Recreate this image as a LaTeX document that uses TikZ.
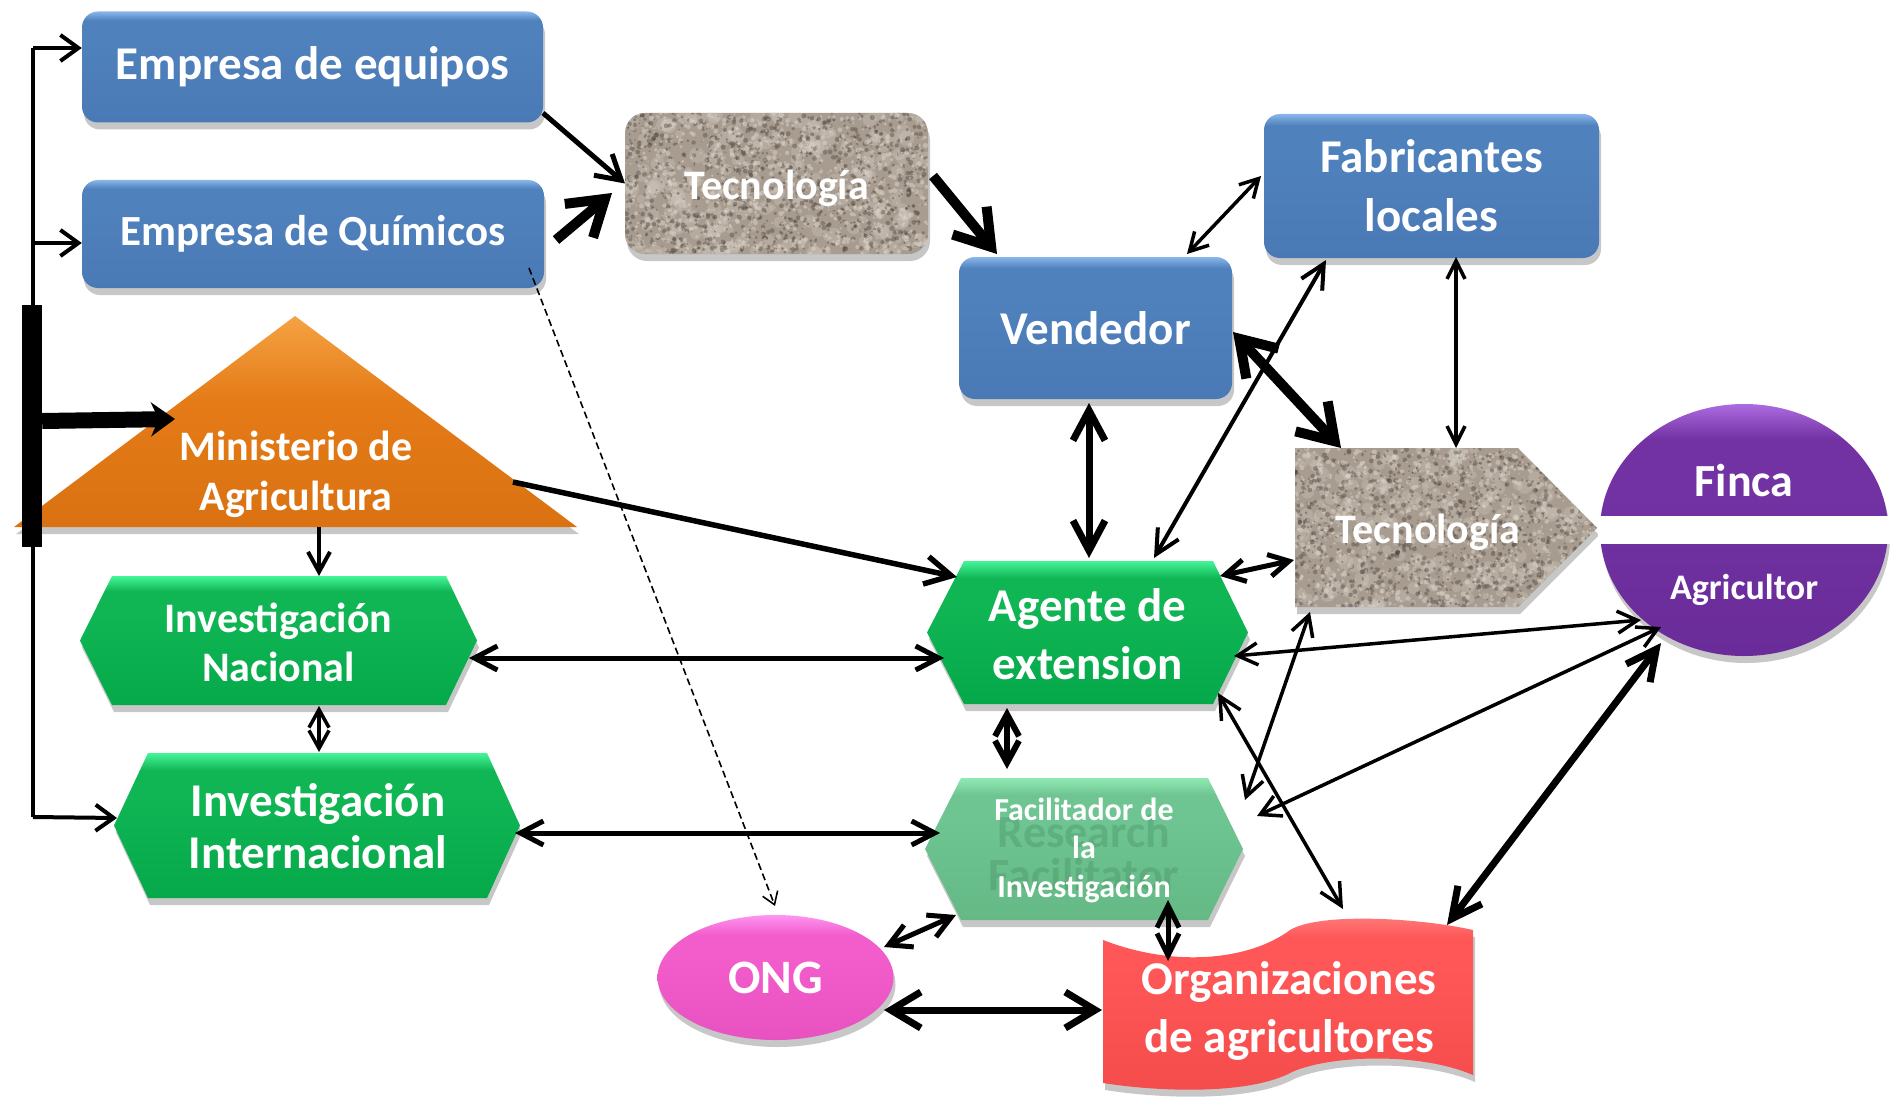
\documentclass[tikz,border=0pt]{standalone}
\usepackage{fontspec}
\setmainfont{Carlito}
\usetikzlibrary{arrows.meta,shadows,shapes.geometric}
\definecolor{blueL}{HTML}{8AB6EA}
\definecolor{blueM}{HTML}{4F81BD}
\definecolor{blueD}{HTML}{4A7AB6}
\definecolor{grnL}{HTML}{44F598}
\definecolor{grnM}{HTML}{10B554}
\definecolor{grnD}{HTML}{05A94A}
\definecolor{facL}{HTML}{90E8B2}
\definecolor{facM}{HTML}{6EC591}
\definecolor{facD}{HTML}{64B985}
\definecolor{orgL}{HTML}{F5A243}
\definecolor{orgM}{HTML}{E47B17}
\definecolor{orgD}{HTML}{DB7212}
\definecolor{purL}{HTML}{AC6BE0}
\definecolor{purM}{HTML}{7232A3}
\definecolor{purD}{HTML}{6A2C99}
\definecolor{pnkL}{HTML}{FF95F2}
\definecolor{pnkM}{HTML}{F25CCB}
\definecolor{pnkD}{HTML}{E852C0}
\definecolor{redL}{HTML}{FF8080}
\definecolor{redM}{HTML}{FF5757}
\definecolor{redD}{HTML}{F44B4B}
\definecolor{texB}{HTML}{A89C90}
\definecolor{texK}{HTML}{4A423A}
\definecolor{texW}{HTML}{DCD4CA}
\definecolor{ghost}{HTML}{2A6142}
\pgfdeclareverticalshading{shBlue}{100bp}{color(0bp)=(blueD); color(25bp)=(blueD); color(62bp)=(blueM); color(71bp)=(blueM); color(75bp)=(blueL); color(100bp)=(blueL)}
\pgfdeclareverticalshading{shGrn}{100bp}{color(0bp)=(grnD); color(25bp)=(grnD); color(60bp)=(grnM); color(69bp)=(grnM); color(75bp)=(grnL); color(100bp)=(grnL)}
\pgfdeclareverticalshading{shFac}{100bp}{color(0bp)=(facD); color(25bp)=(facD); color(60bp)=(facM); color(69bp)=(facM); color(75bp)=(facL); color(100bp)=(facL)}
\pgfdeclareverticalshading{shOr}{100bp}{color(0bp)=(orgD); color(25bp)=(orgD); color(55bp)=(orgM); color(75bp)=(orgL); color(100bp)=(orgL)}
\pgfdeclareverticalshading{shPur}{100bp}{color(0bp)=(purD); color(25bp)=(purD); color(58bp)=(purM); color(68bp)=(purM); color(75bp)=(purL); color(100bp)=(purL)}
\pgfdeclareverticalshading{shPnk}{100bp}{color(0bp)=(pnkD); color(25bp)=(pnkD); color(58bp)=(pnkM); color(67bp)=(pnkM); color(75bp)=(pnkL); color(100bp)=(pnkL)}
\pgfdeclareverticalshading{shRed}{100bp}{color(0bp)=(redD); color(25bp)=(redD); color(60bp)=(redM); color(68bp)=(redM); color(75bp)=(redL); color(100bp)=(redL)}
\newcommand{\fsz}[2]{\fontsize{#1}{#2}\selectfont\bfseries}
\newcommand{\texdots}[4]{%
  \foreach \k in {1,...,260}{\fill[texW,opacity=0.25] ({#1+#3*rnd},{#2+#4*rnd}) circle[radius={3+5*rnd}];}%
  \foreach \k in {1,...,1100}{\fill[texK,opacity=0.4] ({#1+#3*rnd},{#2+#4*rnd}) circle[radius={0.8+1.8*rnd}];}%
  \foreach \k in {1,...,900}{\fill[texW,opacity=0.5] ({#1+#3*rnd},{#2+#4*rnd}) circle[radius={0.8+1.8*rnd}];}}
\tikzset{
  shd/.style={drop shadow={shadow xshift=2pt,shadow yshift=-7pt,opacity=0.22,fill=black}},
  hit/.style={rectangle,inner sep=0pt,outer sep=0pt},
  lbl/.style={text=white,align=center,inner sep=0pt},
  bluebox/.style={rectangle,rounded corners=16pt,shade,shading=shBlue,shd,text=white,align=center,inner sep=0pt},
  dbl/.style n args={3}{line width=#1pt,arrows={Straight Barb[length=#2pt,width=#3pt]-Straight Barb[length=#2pt,width=#3pt]}},
  one/.style n args={3}{line width=#1pt,arrows={-Straight Barb[length=#2pt,width=#3pt]}},
  dsh/.style={line width=1.6pt,dash pattern=on 7pt off 4pt,arrows={-Straight Barb[length=12pt,width=16pt]}},
}
\begin{document}
\begin{tikzpicture}[x=1pt,y=-1pt,line join=round]
\pgfmathsetseed{12}
\useasboundingbox (0,0) rectangle (1892,1102);
\fill[white] (0,0) rectangle (1892,1102);

% blue boxes
\node[bluebox,minimum width=461pt,minimum height=111pt,font=\fsz{47}{56}] (emp1) at (312.5,67) {Empresa de equipos};
\node[bluebox,minimum width=462pt,minimum height=108pt,font=\fsz{43}{52}] (emp2) at (313,234) {Empresa de Químicos};
\node[bluebox,minimum width=273pt,minimum height=142pt,font=\fsz{47}{56}] (vend) at (1095.5,328) {Vendedor};
\node[bluebox,minimum width=335pt,minimum height=144pt,font=\fsz{47}{59}] (fab) at (1431.5,186) {Fabricantes\\locales};

% Tecnologia (top)
\path[shd,fill=texB,rounded corners=20pt] (625,113) rectangle (928,254);
\begin{scope}
\clip[rounded corners=20pt] (625,113) rectangle (928,254);
\texdots{625}{113}{303}{141}
\end{scope}
\node[hit,minimum width=303pt,minimum height=141pt] (tec1) at (776.5,183.5) {};
\node[lbl,font=\fsz{42}{50}] (tec1T) at (776.5,188) {Tecnología};

% Tecnologia (pentagon)
\path[shd,fill=texB] (1295,448) -- (1518,448) -- (1597,528) -- (1518,607) -- (1295,607) -- cycle;
\begin{scope}
\clip (1295,448) -- (1518,448) -- (1597,528) -- (1518,607) -- (1295,607) -- cycle;
\texdots{1295}{448}{302}{159}
\end{scope}
\node[hit,minimum width=302pt,minimum height=159pt] (tec2) at (1446,527.5) {};
\node[lbl,font=\fsz{42}{50}] (tec2T) at (1428,532) {Tecnología};

% Finca
\node[ellipse,shade,shading=shPur,shd,minimum width=288pt,minimum height=252pt,inner sep=0pt] (fin) at (1744,530) {};
\fill[white] (1598,516) rectangle (1892,544);
\node[lbl,font=\fsz{46}{50}] (finT) at (1744,481) {Finca};
\node[lbl,font=\fsz{36}{40}] (agrT) at (1744,590) {Agricultor};

% Ministerio
\path[shade,shading=shOr,shd] (295,316) -- (577,527) -- (14,527) -- cycle;
\node[hit,minimum width=563pt,minimum height=211pt] (min) at (295.5,421.5) {};
\node[lbl,font=\fsz{42}{50}] (minT) at (296,474) {Ministerio de\\Agricultura};

% hexagons
\path[shade,shading=shGrn,shd] (80,640.5) -- (112,576) -- (446,576) -- (477,640.5) -- (446,705) -- (112,705) -- cycle;
\node[hit,lbl,minimum width=397pt,minimum height=129pt,font=\fsz{42}{49}] (invn) at (278.5,642) {Investigación\\Nacional};
\path[shade,shading=shGrn,shd] (114,825.5) -- (148,753) -- (487,753) -- (520,825.5) -- (487,898) -- (148,898) -- cycle;
\node[hit,lbl,minimum width=406pt,minimum height=145pt,font=\fsz{47}{52}] (invi) at (318,826.5) {Investigación\\Internacional};
\path[shade,shading=shGrn,shd] (927,632.5) -- (964,561) -- (1213,561) -- (1248,632.5) -- (1213,704) -- (964,704) -- cycle;
\node[hit,lbl,minimum width=321pt,minimum height=143pt,font=\fsz{47}{58}] (agen) at (1087.5,634) {Agente de\\extension};
\path[shade,shading=shFac,shd] (925,849) -- (961,778) -- (1208,778) -- (1243,849) -- (1208,920) -- (961,920) -- cycle;
\node[text=ghost,opacity=0.2,align=center,inner sep=0pt,font=\fsz{46}{43}] (facG) at (1084,853) {Research\\Facilitator};
\node[hit,lbl,minimum width=318pt,minimum height=142pt,font=\fsz{32}{38.5}] (fac) at (1084,850) {Facilitador de\\la\\Investigación};

% ONG
\node[ellipse,shade,shading=shPnk,shd,minimum width=236pt,minimum height=125pt,inner sep=0pt,text=white,font=\fsz{48}{52}] (ong) at (775.5,977.5) {ONG};

% Organizaciones (wave)
\path[shade,shading=shRed,shd] (1103,940) .. controls (1175,968) and (1250,960) .. (1290,930) .. controls (1320,912) and (1420,918) .. (1473,930) -- (1473,1075) .. controls (1420,1052) and (1330,1055) .. (1292,1072) .. controls (1250,1095) and (1160,1092) .. (1103,1083) -- cycle;
\node[hit,minimum width=370pt,minimum height=163pt] (org) at (1288,1003) {};
\node[lbl,font=\fsz{47}{58}] (orgT) at (1289,1011) {Organizaciones\\de agricultores};

% left trunk
\coordinate (t1) at (33,48);
\coordinate (t2) at (33,243);
\coordinate (t3) at (33,817);
\draw[line width=4pt] (t1) -- (t3);
\node[fill=black,minimum width=20pt,minimum height=242pt,inner sep=0pt] (bar) at (32,426) {};
\draw[one={4}{18}{26}] (t1) -- (t1 -| emp1.west);
\draw[one={4}{18}{26}] (t2) -- (t2 -| emp2.west);
\draw[one={4}{18}{26}] (t3) -- ([shift={(-201,-8.5)}]invi.center);
\draw[line width=16pt,-{Stealth[length=24pt,width=34pt]}] ([shift={(0,-5)}]bar.east) -- ([shift={(-120.5,-2.5)}]min.center);

% connectors
\draw[one={5}{24}{28}] ([shift={(230.5,46)}]emp1.center) -- (tec1.west);
\draw[one={10}{34}{44}] ([shift={(243,6)}]emp2.center) -- ([shift={(-164.5,9.5)}]tec1.center);
\draw[one={10}{34}{44}] ([shift={(156.5,-7.5)}]tec1.center) -- ([shift={(-98.5,-74)}]vend.center);
\draw[dbl={3.5}{18}{20}] ([shift={(91.5,-74)}]vend.center) -- ([shift={(-170.5,-10)}]fab.center);
\draw[dbl={10}{34}{44}] ([shift={(137.5,4)}]vend.center) -- ([shift={(-105,-79.5)}]tec2.center);
\draw[dbl={3.5}{18}{18}] ([shift={(24.5,71)}]fab.center) -- ([shift={(10,-79.5)}]tec2.center);
\draw[dbl={4}{24}{24}] ([shift={(66.5,-76)}]agen.center) -- ([shift={(-105.5,74)}]fab.center);
\draw[dbl={7}{30}{32}] ([shift={(-6.5,75)}]vend.center) -- ([shift={(1.5,-76)}]agen.center);
\draw[one={5.5}{26}{28}] ([shift={(217.5,60.5)}]min.center) -- ([shift={(-130.5,-57)}]agen.center);
\draw[one={4}{20}{22}] ([shift={(23.5,105.5)}]min.center) -- ([shift={(40.5,-66)}]invn.center);
\draw[dbl={5}{23}{24}] ([shift={(190.5,16)}]invn.center) -- ([shift={(-143.5,24)}]agen.center);
\draw[dbl={3.5}{18}{20}] ([shift={(40.5,64)}]invn.center) -- ([shift={(1,-74.5)}]invi.center);
\draw[dbl={5}{23}{24}] ([shift={(197,6.5)}]invi.center) -- ([shift={(-144,-17)}]fac.center);
\draw[dsh] ([shift={(216,34)}]emp2.center) -- ([shift={(-0.5,-71.5)}]ong.center);
\draw[dbl={6}{22}{24}] ([shift={(-80.5,74)}]agen.center) -- ([shift={(-77,-81)}]fac.center);
\draw[dbl={5}{20}{22}] ([shift={(132.5,-58)}]agen.center) -- ([shift={(-152,32.5)}]tec2.center);
\draw[dbl={3.5}{20}{22}] ([shift={(146.5,22)}]agen.center) -- ([shift={(-103,90)}]fin.center);
\draw[dbl={3.5}{20}{22}] ([shift={(161,-50)}]fac.center) -- ([shift={(-136,84.5)}]tec2.center);
\draw[dbl={3.5}{20}{22}] ([shift={(173,-34)}]fac.center) -- ([shift={(-83,97)}]fin.center);
\draw[dbl={3.5}{22}{22}] ([shift={(130.5,59)}]agen.center) -- ([shift={(55,-94)}]org.center);
\draw[dbl={7}{30}{30}] ([shift={(-83,113)}]fin.center) -- ([shift={(159,-78)}]org.center);
\draw[dbl={5}{22}{22}] ([shift={(84,50)}]fac.center) -- ([shift={(-120,-42)}]org.center);
\draw[dbl={5}{22}{24}] ([shift={(108.5,-30.5)}]ong.center) -- ([shift={(-128,65)}]fac.center);
\draw[dbl={7}{30}{36}] ([shift={(108.5,32.5)}]ong.center) -- ([shift={(-186,7)}]org.center);
\end{tikzpicture}
\end{document}
